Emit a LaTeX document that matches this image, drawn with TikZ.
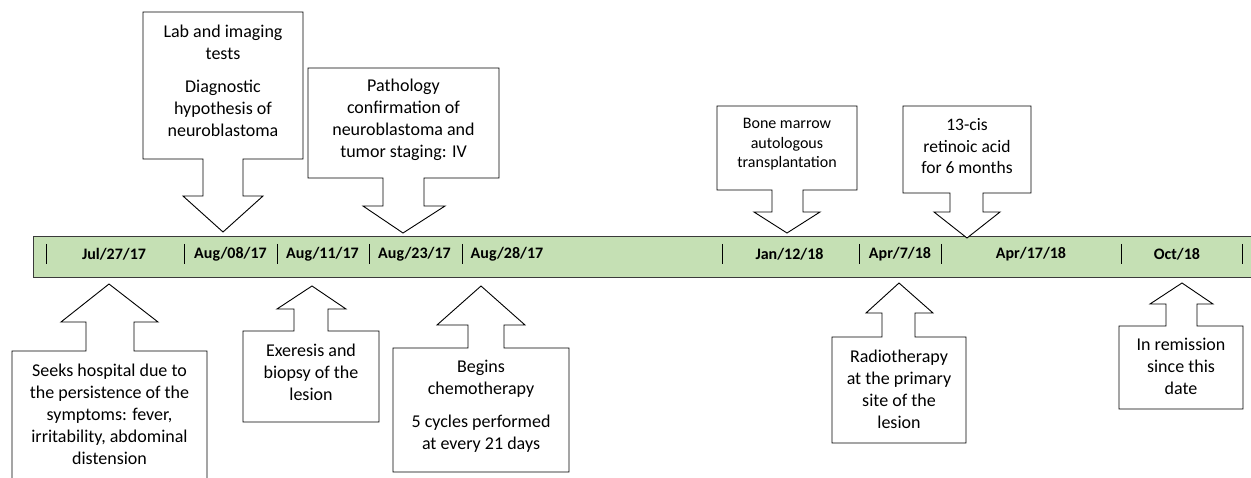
\documentclass[tikz,border=0pt]{standalone}
\usepackage{fontspec}
\setmainfont{Carlito}
\definecolor{barfill}{HTML}{C5E0B4}
\definecolor{barline}{HTML}{3A3A3A}
\begin{document}
\begin{tikzpicture}[x=1pt,y=-1pt,
  callout/.style={draw=black,line width=0.9pt,fill=white,line join=miter},
  txt/.style={align=center,inner sep=0pt,font=\fontsize{18}{22}\selectfont},
  cistxt/.style={align=center,inner sep=0pt,font=\fontsize{17.5}{21.5}\selectfont},
  smalltxt/.style={align=center,inner sep=0pt,font=\fontsize{16}{19.5}\selectfont},
  datelbl/.style={inner sep=0pt,font=\fontsize{16}{19}\selectfont\bfseries},
  sepline/.style={draw=black,line width=1pt}]
\useasboundingbox (0,0) rectangle (1251,478);

% timeline bar
\fill[barfill] (33,237) rectangle (1253,278);
\draw[barline,line width=1pt] (1253,237) -- (33,237) -- (33,278) -- (1253,278);
\foreach \x in {46,184,277,369,462,722,859,941,1121,1242}
  \draw[sepline] (\x,244) -- (\x,264);

% dates
\node[datelbl] (d1) at (114,254) {Jul/27/17};
\node[datelbl] (d2) at (230.5,254) {Aug/08/17};
\node[datelbl] (d3) at (322.5,254) {Aug/11/17};
\node[datelbl] (d4) at (414.5,254) {Aug/23/17};
\node[datelbl] (d5) at (507,254) {Aug/28/17};
\node[datelbl] (d6) at (789.5,254) {Jan/12/18};
\node[datelbl] (d7) at (900,254) {Apr/7/18};
\node[datelbl] (d8) at (1031,254) {Apr/17/18};
\node[datelbl] (d9) at (1177,254) {Oct/18};

% down callouts
\draw[callout] (143,12) -- (303,12) -- (303,159) -- (243,159) -- (243,196) -- (263,196) -- (223,232) -- (183,196) -- (203,196) -- (203,159) -- (143,159) -- cycle;
\node[txt] (lab) at (223,80.5) {Lab and imaging\\tests\\[11pt]Diagnostic\\hypothesis of\\neuroblastoma};

\draw[callout] (308,68) -- (499,68) -- (499,178) -- (424,178) -- (424,206) -- (445,206) -- (403,233) -- (363,206) -- (383,206) -- (383,178) -- (308,178) -- cycle;
\node[txt] (path) at (403.5,120) {Pathology\\confirmation of\\neuroblastoma and\\tumor staging: IV};

\draw[callout] (717,106) -- (857,106) -- (857,190) -- (803,190) -- (803,212) -- (820,212) -- (787,233) -- (754,212) -- (772,212) -- (772,190) -- (717,190) -- cycle;
\node[smalltxt] (bone) at (787,144.5) {Bone marrow\\autologous\\transplantation};

\draw[callout] (903,106) -- (1031,106) -- (1031,193) -- (983,193) -- (983,212) -- (1000,212) -- (967,238) -- (934,212) -- (950,212) -- (950,193) -- (903,193) -- cycle;
\node[cistxt] (cis) at (967,146.5) {13-cis\\retinoic acid\\for 6 months};

% up callouts
\draw[callout] (12,482) -- (12,351) -- (86,351) -- (86,322) -- (61,322) -- (109,284) -- (158,322) -- (134,322) -- (134,351) -- (207,351) -- (207,482);
\node[txt] (seeks) at (109.5,414) {Seeks hospital due to\\the persistence of the\\symptoms: fever,\\irritability, abdominal\\distension};

\draw[callout] (243,422) -- (243,331) -- (294,331) -- (294,309) -- (277,309) -- (312,286) -- (346,309) -- (328,309) -- (328,331) -- (379,331) -- (379,422) -- cycle;
\node[txt] (exer) at (311,372) {Exeresis and\\biopsy of the\\lesion};

\draw[callout] (393,472) -- (393,348) -- (468,348) -- (468,325) -- (437,325) -- (481,286) -- (525,325) -- (504,325) -- (504,348) -- (569,348) -- (569,472) -- cycle;
\node[txt] (chemo) at (481,406.5) {Begins\\chemotherapy\\[11pt]5 cycles performed\\at every 21 days};

\draw[callout] (832,443) -- (832,337) -- (882,337) -- (882,313) -- (866,313) -- (899,283) -- (933,313) -- (915,313) -- (915,337) -- (966,337) -- (966,443) -- cycle;
\node[txt] (radio) at (899,389.5) {Radiotherapy\\at the primary\\site of the\\lesion};

\draw[callout] (1119,409) -- (1119,326) -- (1166,326) -- (1166,304) -- (1150,304) -- (1182,283) -- (1213,304) -- (1197,304) -- (1197,326) -- (1243,326) -- (1243,409) -- cycle;
\node[txt] (remis) at (1181,366) {In remission\\since this\\date};
\end{tikzpicture}
\end{document}
